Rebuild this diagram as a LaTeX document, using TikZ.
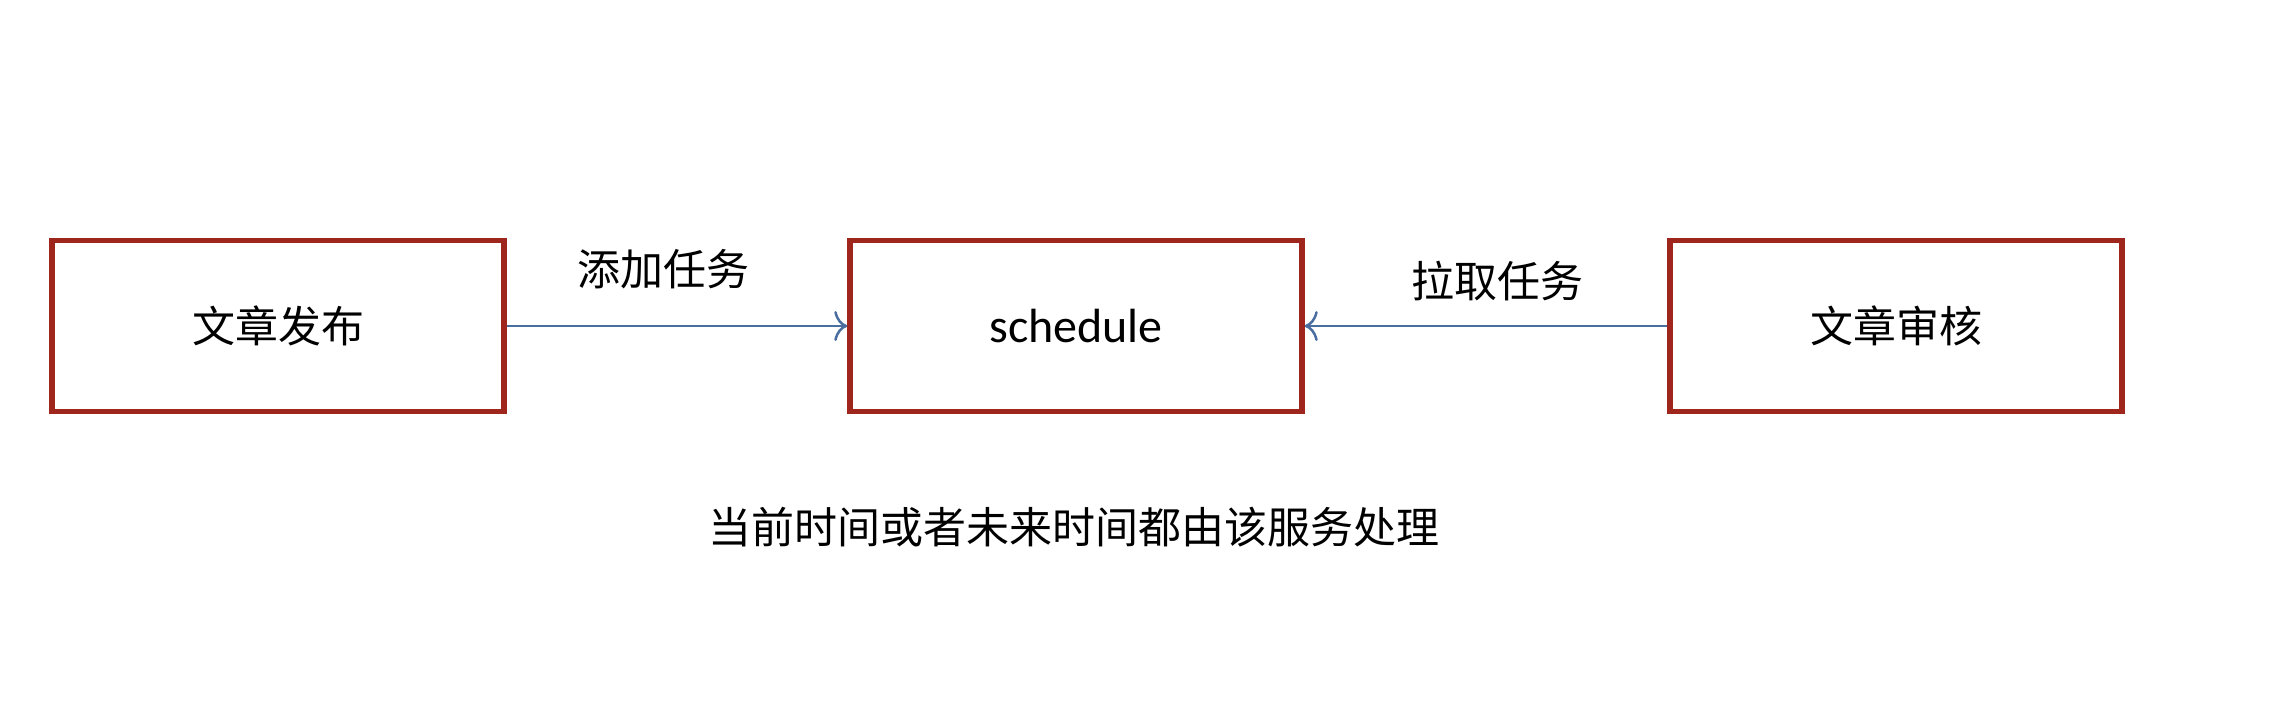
\documentclass[tikz,border=0pt]{standalone}
\usepackage{fontspec}
\setmainfont{Carlito}
\newfontfamily\cjk{Noto Sans CJK SC}
\usetikzlibrary{arrows.meta}
\definecolor{boxred}{RGB}{158,38,28}
\definecolor{arrowblue}{RGB}{74,110,160}
\tikzset{
  box/.style={draw=boxred, line width=5.5pt, fill=white, minimum width=452pt, minimum height=171pt, inner sep=0pt, font=\fontsize{43}{50}\selectfont\cjk},
  conn/.style={draw=arrowblue, line width=2.5pt, -{To[length=13pt,width=30pt,line width=2.5pt]}},
  lbl/.style={font=\fontsize{43}{50}\selectfont\cjk, inner sep=0pt}
}
\begin{document}
\begin{tikzpicture}[x=1pt,y=-1pt]
\useasboundingbox (0,0) rectangle (2284,718);
\fill[white] (0,0) rectangle (2284,718);
\node[box] (pub) at (278,326) {文章发布};
\node[box, font=\fontsize{48}{56}\selectfont] (sch) at (1076,326) {schedule};
\node[box] (aud) at (1896,326) {文章审核};
\draw[conn] (pub.east) -- (sch.west);
\draw[conn] (aud.west) -- (sch.east);
\node[lbl] (l1) at (663,269) {添加任务};
\node[lbl] (l2) at (1497,281) {拉取任务};
\node[lbl] (note) at (1074,527) {当前时间或者未来时间都由该服务处理};
\end{tikzpicture}
\end{document}
